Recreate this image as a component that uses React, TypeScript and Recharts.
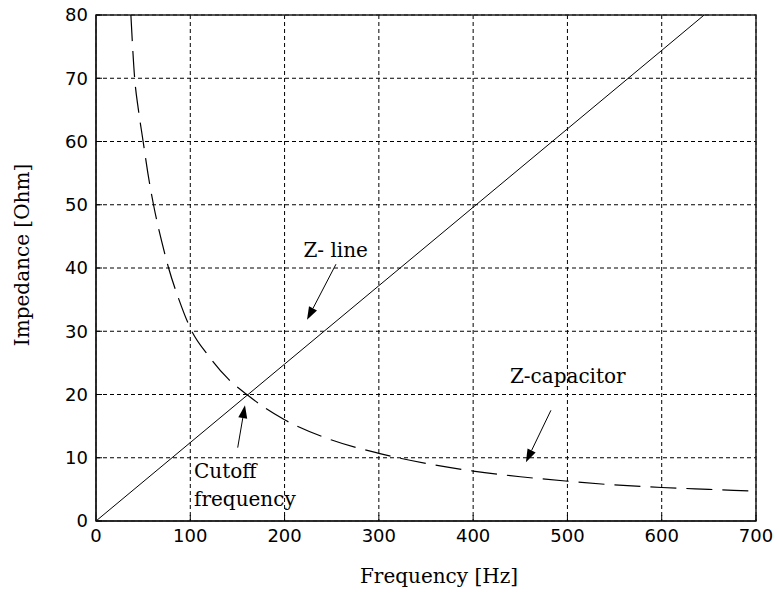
import {
  LineChart,
  Line,
  XAxis,
  YAxis,
  CartesianGrid,
  ReferenceLine,
  ReferenceDot,
  ReferenceArea,
} from "recharts";

// Frequency ticks [Hz] and impedance ticks [Ohm]
const freqTicks = [0, 100, 200, 300, 400, 500, 600, 700];
const ohmTicks = [0, 10, 20, 30, 40, 50, 60, 70, 80];

// Z-line (solid)
const lineFreq = [0, 100, 200, 300, 400, 500, 600, 645];
const lineZ = [0, 12.4, 24.8, 37.2, 49.6, 62, 74.4, 80];

// Z-capacitor (dashed)
const capFreq = [37, 41, 45, 50, 55, 61, 70, 77, 88, 100, 120, 140, 160, 180, 200, 250, 300, 350, 400, 450, 500, 550, 600, 650, 700];
const capZ = [80, 70, 65, 60, 55, 50, 44, 40, 35, 30.5, 26, 22.5, 20, 17.8, 16, 12.8, 10.7, 9.1, 7.9, 7, 6.3, 5.7, 5.3, 5, 4.7];

const zLine = lineFreq.map((f, i) => ({ f, z: lineZ[i] }));
const zCap = capFreq.map((f, i) => ({ f, z: capZ[i] }));

const SERIF = "'DejaVu Serif', serif";
const SANS = "'DejaVu Sans', sans-serif";

/** Flèche : trait + pointe pleine au bout (x2, y2). */
function Arrow(props: any) {
  const { x1, y1, x2, y2 } = props;
  const a = Math.atan2(y2 - y1, x2 - x1);
  const len = 13;
  const half = 4.5;
  const bx = x2 - len * Math.cos(a);
  const by = y2 - len * Math.sin(a);
  const px = -Math.sin(a) * half;
  const py = Math.cos(a) * half;
  return (
    <g>
      <line x1={x1} y1={y1} x2={bx} y2={by} stroke="#000" strokeWidth={1} />
      <polygon
        points={`${x2},${y2} ${bx + px},${by + py} ${bx - px},${by - py}`}
        fill="#000"
      />
    </g>
  );
}

function textAt(lines: string[]) {
  return (p: any) => (
    <text x={p.cx} y={p.cy} fontFamily={SERIF} fontSize={20} fill="#000">
      {lines.map((t, i) => (
        <tspan key={i} x={p.cx} dy={i === 0 ? 0 : 28}>
          {t}
        </tspan>
      ))}
    </text>
  );
}

export default function App() {
  return (
    <div style={{ position: "absolute", left: 0, top: 0, background: "#fff" }}>
      <LineChart
        width={779}
        height={595}
        margin={{ top: 15, right: 23, bottom: 4, left: 0 }}
      >
        <CartesianGrid
          stroke="#000"
          strokeDasharray="4 3"
          horizontalValues={ohmTicks}
          verticalValues={freqTicks}
        />
        <XAxis
          type="number"
          dataKey="f"
          domain={[0, 700]}
          ticks={freqTicks}
          height={70}
          tickSize={-6}
          tickMargin={14}
          axisLine={{ stroke: "#222", strokeWidth: 1.5 }}
          tickLine={{ stroke: "#000" }}
          tick={{ fill: "#000", fontSize: 18, fontFamily: SANS }}
          allowDataOverflow
          label={{
            content: ({ viewBox }: any) => (
              <text
                x={viewBox.x + viewBox.width / 2 + 13}
                y={viewBox.y + 62}
                textAnchor="middle"
                fontFamily={SERIF}
                fontSize={20}
                fill="#000"
              >
                Frequency [Hz]
              </text>
            ),
          }}
        />
        <YAxis
          type="number"
          dataKey="z"
          domain={[0, 80]}
          ticks={ohmTicks}
          width={96}
          tickSize={-6}
          tickMargin={14}
          axisLine={{ stroke: "#222", strokeWidth: 1.5 }}
          tickLine={{ stroke: "#000" }}
          tick={{ fill: "#000", fontSize: 18, fontFamily: SANS }}
          allowDataOverflow
          label={{
            content: () => (
              <text
                x={29}
                y={255}
                transform="rotate(-90 29 255)"
                textAnchor="middle"
                fontFamily={SERIF}
                fontSize={20}
                fill="#000"
              >
                Impedance [Ohm]
              </text>
            ),
          }}
        />
        {/* cadre du tracé */}
        <ReferenceArea x1={0} x2={700} y1={0} y2={80} fill="none" stroke="#222" strokeWidth={1.5} />

        <Line
          data={zLine}
          dataKey="z"
          type="linear"
          stroke="#000"
          strokeWidth={1}
          dot={false}
          isAnimationActive={false}
        />
        <Line
          data={zCap}
          dataKey="z"
          type="monotone"
          stroke="#000"
          strokeWidth={1.2}
          strokeDasharray="26 10"
          dot={false}
          isAnimationActive={false}
        />

        {/* annotations */}
        <ReferenceLine segment={[{ x: 254.5, y: 40.6 }, { x: 223.8, y: 31.8 }]} shape={Arrow} />
        <ReferenceLine segment={[{ x: 150.3, y: 11.6 }, { x: 158, y: 18.3 }]} shape={Arrow} />
        <ReferenceLine segment={[{ x: 482.5, y: 17.5 }, { x: 456, y: 9.3 }]} shape={Arrow} />
        <ReferenceDot x={220} y={41.7} r={0} shape={textAt(["Z- line"])} />
        <ReferenceDot x={439} y={21.8} r={0} shape={textAt(["Z-capacitor"])} />
        <ReferenceDot x={104} y={6.8} r={0} shape={textAt(["Cutoff", "frequency"])} />
      </LineChart>
    </div>
  );
}
